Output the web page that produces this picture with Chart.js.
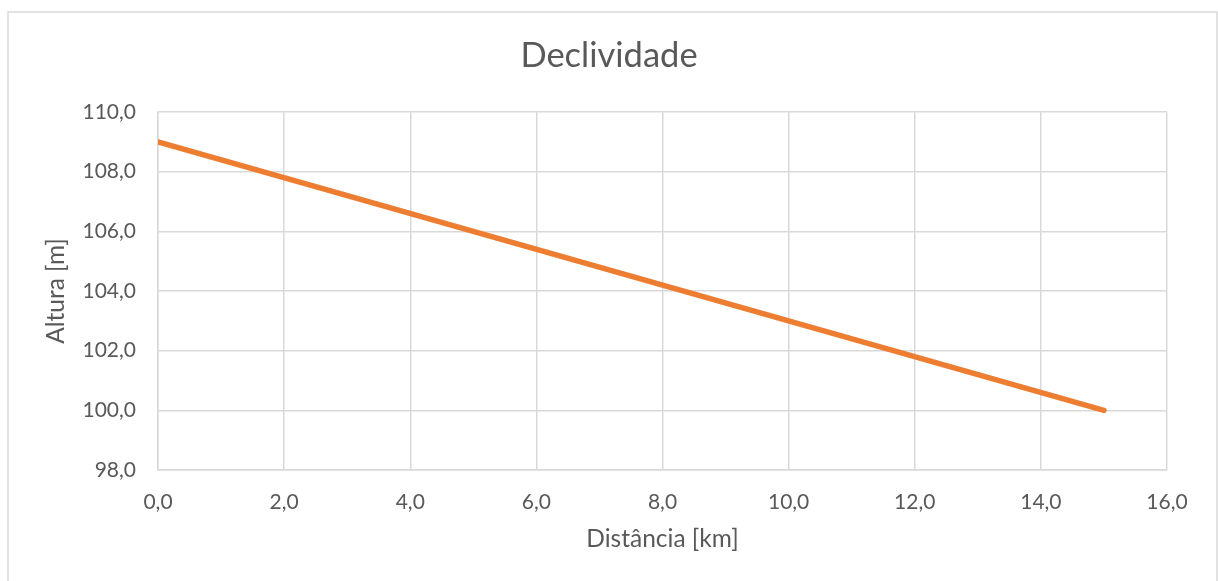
<!DOCTYPE html>
<html lang="pt">
<head>
<meta charset="utf-8">
<title>Declividade</title>
<script src="https://cdn.jsdelivr.net/npm/chart.js@4.4.1/dist/chart.umd.min.js"></script>
<style>
  html, body { margin: 0; padding: 0; background: #fff; }
  canvas { display: block; }
</style>
</head>
<body>
<canvas id="chart-declividade" width="1218" height="581"></canvas>
<script>
// dados
const distancia = [0, 15];
const altura = [109, 100];
const xTicks = [0, 2, 4, 6, 8, 10, 12, 14, 16];
const yTicks = [98, 100, 102, 104, 106, 108, 110];

const corTexto = '#595959';
const corGrade = '#d9d9d9';
const fonte = 'Lato, "Open Sans", sans-serif';

function formatoVirgula(v) {
  return Number(v).toFixed(1).replace('.', ',');
}

const molduraPlugin = {
  id: 'moldura',
  beforeDraw(chart) {
    const ctx = chart.ctx;
    ctx.save();
    ctx.fillStyle = '#ffffff';
    ctx.fillRect(0, 0, chart.width, chart.height);
    ctx.strokeStyle = corGrade;
    ctx.lineWidth = 1.5;
    ctx.strokeRect(8, 12, 1209, 600);
    ctx.restore();
  }
};

const pontos = distancia.map((d, i) => ({ x: d, y: altura[i] }));

new Chart(document.getElementById('chart-declividade'), {
  type: 'scatter',
  data: {
    datasets: [
      {
        label: 'Altura',
        data: pontos,
        showLine: true,
        borderColor: '#ED7D31',
        backgroundColor: '#ED7D31',
        borderWidth: 5.5,
        borderCapStyle: 'round',
        tension: 0,
        pointRadius: 0,
        pointHoverRadius: 0
      }
    ]
  },
  options: {
    responsive: false,
    devicePixelRatio: 1,
    animation: false,
    layout: { padding: 0 },
    plugins: {
      legend: { display: false },
      tooltip: { enabled: false },
      title: {
        display: true,
        text: 'Declividade',
        color: corTexto,
        font: { family: fonte, size: 34.5, weight: 'normal', lineHeight: 1.2 },
        padding: { top: 35, bottom: 35.6 }
      }
    },
    scales: {
      x: {
        type: 'linear',
        min: xTicks[0],
        max: xTicks[xTicks.length - 1],
        afterBuildTicks: (scale) => { scale.ticks = xTicks.map((v) => ({ value: v })); },
        afterFit: (scale) => { scale.height = 111; },
        grid: { color: corGrade, lineWidth: 1.5, drawTicks: false },
        border: { color: corGrade, width: 1.5 },
        ticks: {
          color: corTexto,
          font: { family: fonte, size: 21 },
          padding: 20,
          maxRotation: 0,
          callback: formatoVirgula
        },
        title: {
          display: true,
          text: 'Distância [km]',
          color: corTexto,
          font: { family: fonte, size: 24.5, lineHeight: 1.2 },
          padding: { top: 0, bottom: 27 }
        }
      },
      y: {
        type: 'linear',
        min: yTicks[0],
        max: yTicks[yTicks.length - 1],
        afterBuildTicks: (scale) => { scale.ticks = yTicks.map((v) => ({ value: v })); },
        afterFit: (scale) => { scale.width = 158; },
        grid: { color: corGrade, lineWidth: 1.5, drawTicks: false },
        border: { color: corGrade, width: 1.5 },
        ticks: {
          color: corTexto,
          font: { family: fonte, size: 21 },
          padding: 22,
          callback: formatoVirgula
        },
        title: {
          display: true,
          text: 'Altura [m]',
          color: corTexto,
          font: { family: fonte, size: 24.5, lineHeight: 1.2 },
          padding: { top: 41, bottom: 0 }
        }
      },
      // margem à direita da área do gráfico
      margemDireita: {
        type: 'linear',
        position: 'right',
        afterFit: (scale) => { scale.width = 51; },
        grid: { display: false },
        border: { display: false },
        ticks: { display: false }
      }
    }
  },
  plugins: [molduraPlugin]
});
</script>
</body>
</html>
